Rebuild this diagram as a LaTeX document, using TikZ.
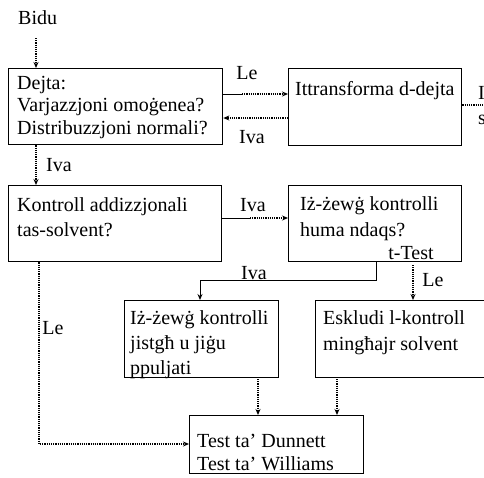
\documentclass[tikz,border=0pt]{standalone}
\usepackage{fontspec}
\setmainfont{Liberation Serif}
\usetikzlibrary{arrows.meta}
\begin{document}
\begin{tikzpicture}[x=1pt,y=-1pt,
  box/.style={draw, line width=1.3pt, anchor=north west, inner sep=0pt},
  % multi-line texts are placed by the baseline of their last line
  txt/.style={anchor=base west, inner sep=0pt, align=left, font=\fontsize{20}{24}\selectfont},
  lbl/.style={inner sep=0pt, font=\fontsize{20}{24}\selectfont},
  tip/.style={-{Stealth[length=6pt,width=5pt]}},
  flow/.style={densely dotted, line width=1.2pt, tip},
  plain/.style={line width=1pt},
]
\useasboundingbox (0,0) rectangle (484,477);
\clip (0,0) rectangle (484,477);

% boxes
\node[box, minimum width=214pt, minimum height=76pt] (dejta)    at (8,68)   {};
\node[box, minimum width=173pt, minimum height=77pt] (transf)   at (288,68) {};
\node[box, minimum width=213pt, minimum height=76pt] (kontroll) at (8,185)  {};
\node[box, minimum width=173pt, minimum height=76pt] (ndaqs)    at (288,185){};
\node[box, minimum width=154pt, minimum height=77pt] (ppuljati) at (124,300){};
\node[box, minimum width=190pt, minimum height=77pt] (eskludi)  at (315,300){};
\node[box, minimum width=174pt, minimum height=58pt] (dunnett)  at (189,415){};

% texts
\node[txt] (bidu) at (18,24) {Bidu};
\node[txt, font=\fontsize{20}{22.5}\selectfont] (tDejta) at (17,134)
  {Dejta:\\Varjazzjoni omoġenea?\\Distribuzzjoni normali?};
\node[txt] (tTransf) at (295,95) {Ittransforma d-dejta};
\node[txt, font=\fontsize{20}{25}\selectfont] (tKontroll) at (17,236) {Kontroll addizzjonali\\tas-solvent?};
\node[txt, font=\fontsize{20}{26}\selectfont] (tNdaqs) at (300,236) {Iż-żewġ kontrolli\\huma ndaqs?};
\node[lbl, anchor=base] (tTest) at (411,259) {t-Test};
\node[txt, font=\fontsize{20}{25}\selectfont] (tPpuljati) at (130,374) {Iż-żewġ kontrolli\\jistgħ u jiġu\\ppuljati};
\node[txt, font=\fontsize{20}{26}\selectfont] (tEskludi) at (323,350) {Eskludi l-kontroll\\mingħajr solvent};
\node[txt, font=\fontsize{20}{22.5}\selectfont] (tDunnett) at (197,470) {Test ta’ Dunnett\\Test ta’ Williams};
\node[txt, font=\fontsize{20}{25}\selectfont] (tOut) at (478,124) {I\\s};

% labels on connectors
\node[lbl] (lLe1)  at (247,73)  {Le};
\node[lbl] (lIva1) at (252,137) {Iva};
\node[lbl] (lIva2) at (59,165)  {Iva};
\node[lbl] (lIva3) at (253,205) {Iva};
\node[lbl] (lIva4) at (254,273) {Iva};
\node[lbl] (lLe2)  at (433,280) {Le};
\node[lbl] (lLe3)  at (53,328)  {Le};

% connectors
\coordinate (p0) at (36,38);
\draw[flow] (p0) -- (p0 |- dejta.north);

\coordinate (a1) at (242,94);
\draw[plain] (dejta.east |- a1) -- (a1);
\draw[flow] (a1) -- (a1 -| transf.west);

\coordinate (a2) at (288,118);
\draw[flow] (transf.west |- a2) -- (a2 -| dejta.east);

\coordinate (a3) at (490,105);
\draw[densely dotted, line width=1.2pt] (transf.east |- a3) -- (a3);

\coordinate (x1) at (36,0);
\draw[flow] (dejta.south -| x1) -- (kontroll.north -| x1);

\coordinate (k1) at (250,218);
\draw[plain] (kontroll.east |- k1) -- (k1);
\draw[flow] (k1) -- (k1 -| ndaqs.west);

\coordinate (n1) at (376,280);
\coordinate (n2) at (200,280);
\draw[plain, tip] (ndaqs.south -| n1) -- (n1) -- (n2) -- (n2 |- ppuljati.north);

\coordinate (n3) at (413,265);
\draw[flow] (n3) -- (n3 |- eskludi.north);

\coordinate (k2) at (39,444);
\draw[flow] (kontroll.south -| k2) -- (k2) -- (k2 -| dunnett.west);

\coordinate (q1) at (258,379);
\draw[flow] (q1) -- (q1 |- dunnett.north);
\coordinate (q2) at (337,379);
\draw[flow] (q2) -- (q2 |- dunnett.north);
\end{tikzpicture}
\end{document}
